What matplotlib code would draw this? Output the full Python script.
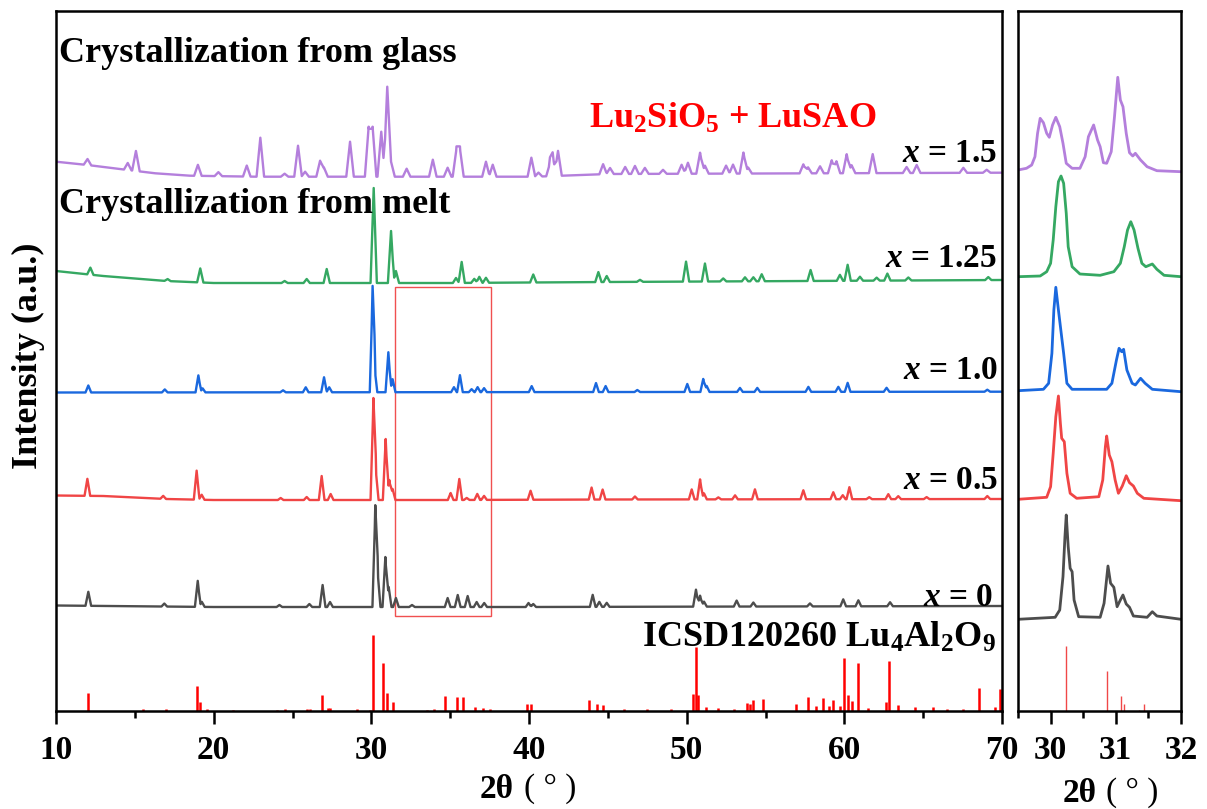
import numpy as np
import matplotlib
matplotlib.use("Agg")
import matplotlib.pyplot as plt
from matplotlib.patches import Rectangle
from matplotlib.ticker import MultipleLocator

plt.rcParams['font.family'] = ['Liberation Serif', 'DejaVu Serif']
plt.rcParams['font.weight'] = 'bold'
plt.rcParams['mathtext.fontset'] = 'custom'
plt.rcParams['mathtext.rm'] = 'Liberation Serif:bold'
plt.rcParams['mathtext.it'] = 'Liberation Serif:italic:bold'
plt.rcParams['mathtext.bf'] = 'Liberation Serif:bold'

# ---------------- data (2theta in degrees, intensity in a.u.) ----------------
labels = ["x = 1.5", "x = 1.25", "x = 1.0", "x = 0.5", "x = 0"]
colors = ["#b47fdc", "#35a862", "#1a68de", "#f04545", "#4d4d4d"]

# x = 1.5 (crystallization from glass)
g15_bx = [10, 12, 14.2, 16.3, 18.5, 22.7, 40.4, 45, 70]
g15_by = [549.3, 546, 541.7, 537.7, 535.3, 534.3, 534.3, 537, 538.3]
g15_px = [12.0, 14.55, 15.07, 19.0, 20.3, 22.1, 22.96, 24.5, 25.35, 25.8, 26.75, 27.0,
          28.65, 29.83, 30.08, 30.63, 31.01, 31.25, 32.24, 33.9, 34.84, 35.4, 35.62,
          37.27, 37.7, 40.15, 40.6, 41.33, 41.5, 41.84, 44.7, 45.14, 46.1, 46.72, 47.35,
          48.5, 49.68, 50.08, 50.85, 51.16, 52.5, 52.94, 53.6, 53.9, 57.4, 57.7, 58.46,
          59.2, 59.5, 60.15, 60.46, 61.8, 63.95, 64.59, 67.55, 69.03]
g15_ph = [6, 7, 20, 11, 4, 11, 39, 3, 31, 5, 16, 9,
          35, 50, 50, 45, 90, 15, 8, 17, 9, 28, 28,
          15, 12, 19, 4, 13, 20, 25, 10, 6, 7, 8, 6,
          4, 9, 11, 21, 8, 8, 9, 21, 6, 9, 6, 7,
          13, 12, 19, 8, 19, 6, 8, 5, 3]

# x = 1.25
g125_bx = [10, 13, 17, 20, 35, 45, 70]
g125_by = [440, 435, 430, 428, 428, 429, 431]
g125_px = [12.18, 17.08, 19.15, 24.5, 25.9, 27.17, 30.15, 31.25, 31.56, 35.37, 35.73,
           36.53, 36.85, 37.27, 40.27, 44.4, 44.93, 47.04, 49.96, 51.16, 52.32, 53.7,
           54.23, 54.76, 57.86, 59.72, 60.21, 60.99, 62.05, 62.73, 64.06, 69.13]
g125_ph = [7, 2, 14, 2, 4, 14, 95, 52, 12, 5, 21,
           4, 6, 5, 8, 10, 6, 2, 20, 18, 3, 4,
           4, 7, 11, 6, 16, 4, 3, 7, 3, 3]

# x = 1.0
g10_bx = [10, 70]
g10_by = [318.5, 319.3]
g10_px = [12.05, 16.9, 19.03, 19.3, 24.4, 25.84, 27.0, 27.33, 30.08, 30.2, 31.08, 31.35,
          35.24, 35.62, 36.36, 36.74, 37.15, 40.17, 44.25, 44.86, 46.87, 50.04, 51.05,
          51.27, 53.38, 54.48, 57.72, 59.62, 60.21, 62.68, 69.07]
g10_ph = [7, 3, 17, 4, 2, 5, 15, 5, 98, 25, 40, 13,
          5, 17, 3, 5, 4, 6, 9, 6, 2, 8, 13,
          6, 4, 4, 5, 5, 9, 4, 2]

# x = 0.5
g05_bx = [10, 13, 15, 17, 20, 35, 45, 70]
g05_by = [215.5, 215, 213.5, 212, 211, 211, 211.5, 212]
g05_px = [11.99, 16.8, 18.92, 19.24, 24.25, 25.9, 26.85, 27.42, 30.13, 30.28, 30.91,
          31.14, 31.35, 35.03, 35.58, 36.05, 36.72, 37.15, 40.1, 43.97, 44.67, 46.72,
          50.32, 50.85, 51.1, 52.01, 53.07, 54.33, 57.4, 59.3, 59.9, 60.32, 61.58,
          62.79, 63.42, 65.22, 69.07]
g05_ph = [17, 3, 29, 5, 2, 3, 24, 6, 97, 30, 61,
          20, 11, 7, 21, 2, 6, 4, 9, 12, 10, 3,
          10, 20, 6, 2, 4, 10, 9, 7, 4, 12, 2,
          5, 3, 2, 3]

# x = 0
g0_bx = [10, 20, 40, 55, 70]
g0_by = [105.5, 104, 104, 104.5, 105]
g0_px = [12.05, 16.87, 18.99, 19.25, 24.17, 26.07, 26.91, 27.38, 30.25, 30.4, 30.89,
         31.1, 31.56, 32.58, 34.84, 35.48, 36.11, 36.68, 37.16, 39.97, 40.27, 44.04,
         44.46, 44.93, 50.59, 50.85, 51.1, 53.17, 54.23, 57.82, 59.93, 60.89, 62.9]
g0_ph = [14, 3, 26, 5, 2, 3, 22, 5, 96, 35, 50,
         20, 9, 2, 9, 12, 11, 5, 4, 4, 3, 12,
         5, 4, 17, 11, 5, 6, 4, 3, 7, 6, 4]

# ICSD120260 Lu4Al2O9 reference pattern
ref_pos = [12.05, 15.5, 17.0, 18.92, 19.13, 19.6, 21.2, 24.0, 24.5, 25.9, 26.1, 26.85,
           27.27, 27.4, 29.1, 29.9, 30.13, 30.76, 31.01, 31.36, 33.5, 34.0, 34.67, 35.41,
           35.83, 36.6, 37.1, 37.5, 39.85, 40.1, 43.83, 44.33, 44.71, 46.0, 47.5, 49.0,
           50.42, 50.59, 50.74, 51.2, 52.0, 53.0, 53.8, 54.0, 54.18, 54.82, 56.93, 57.71,
           58.2, 58.63, 59.0, 59.3, 59.7, 60.0, 60.25, 60.47, 60.85, 61.5, 62.65, 62.85,
           63.42, 64.48, 65.64, 66.5, 67.5, 68.56, 69.55, 69.87]
ref_int = [18, 2, 2, 25, 9, 2, 1, 1, 2, 2, 2, 16,
           3, 3, 2, 1, 76, 48, 18, 9, 1, 2, 15, 14,
           14, 4, 3, 2, 7, 7, 11, 7, 6, 2, 2, 2,
           17, 64, 16, 4, 3, 2, 8, 7, 11, 12, 7, 14,
           5, 13, 5, 11, 5, 53, 16, 10, 48, 3, 9, 50,
           6, 4, 4, 2, 2, 23, 4, 22]

# zoomed panel (29.5 - 32 deg)
z15_x = [29.5, 29.63, 29.71, 29.76, 29.80, 29.84, 29.89, 29.94, 29.98, 30.03, 30.08, 30.14,
         30.19, 30.24, 30.33, 30.45, 30.53, 30.58, 30.66, 30.72, 30.76, 30.81, 30.86, 30.93,
         30.98, 31.03, 31.07, 31.11, 31.16, 31.21, 31.26, 31.3, 31.38, 31.48, 31.63, 32.0]
z15_y = [541, 542.7, 546, 554.3, 577.7, 592.7, 588.3, 577.7, 573.7, 586, 593.7, 584.3,
         567.7, 547.7, 542.7, 542.7, 554.3, 574.3, 586, 571, 564.3, 548.3, 547.7, 559.3,
         594.3, 633.7, 611, 604.3, 577.7, 558.3, 555, 557.7, 551, 544.3, 540.3, 539.3]
z125_x = [29.5, 29.84, 29.94, 30.0, 30.04, 30.08, 30.12, 30.16, 30.2, 30.24, 30.27, 30.33,
          30.45, 30.76, 30.97, 31.07, 31.13, 31.18, 31.23, 31.28, 31.34, 31.4, 31.46, 31.56,
          31.63, 31.74, 32.0]
z125_y = [434.3, 435, 439.3, 447.7, 471, 504.3, 529.3, 535, 527.7, 497.7, 464.3, 444.3,
          437, 435.7, 439.3, 447.7, 464.3, 481, 489.3, 481, 462.7, 447.7, 444.3, 447,
          441.7, 435.7, 434.3]
z10_x = [29.5, 29.89, 29.97, 30.02, 30.05, 30.08, 30.12, 30.16, 30.2, 30.25, 30.33, 30.86,
         30.94, 31.01, 31.05, 31.09, 31.12, 31.17, 31.25, 31.3, 31.38, 31.45, 31.56, 32.0]
z10_y = [320.3, 321.7, 327.7, 357.7, 401, 423.7, 401, 379.3, 357.7, 327.7, 321.7, 321.7,
         327.7, 351, 362.7, 359.3, 361.7, 341, 327.7, 326, 332.7, 327.7, 321.7, 319.3]
z05_x = [29.5, 29.94, 30.0, 30.04, 30.08, 30.12, 30.15, 30.17, 30.21, 30.25, 30.3, 30.4,
         30.74, 30.8, 30.84, 30.86, 30.9, 30.94, 30.99, 31.04, 31.1, 31.16, 31.21, 31.27,
         31.33, 31.43, 32.0]
z05_y = [211.7, 213.7, 224.3, 257.7, 294.3, 315, 287.7, 272.7, 269.3, 237.7, 217.7, 212.7,
         214.3, 231, 264.3, 275, 256, 249.3, 231, 217.7, 225, 235.3, 228.3, 225,
         217.7, 212.7, 210.3]
z0_x = [29.5, 30.07, 30.14, 30.19, 30.22, 30.24, 30.27, 30.3, 30.33, 30.36, 30.43, 30.76,
        30.82, 30.88, 30.92, 30.97, 31.02, 31.07, 31.11, 31.16, 31.21, 31.27, 31.48, 31.56,
        31.63, 32.0]
z0_y = [91.7, 93.7, 101, 134.3, 174.3, 196, 164.3, 142.7, 139.3, 111, 94.3, 93.7,
        107.7, 145, 127.7, 123.7, 104.3, 111, 116, 107, 103.7, 95, 93.7, 99.3,
        95, 91.7]
zref_pos = [29.99, 30.23, 30.86, 31.08, 31.13, 31.35, 31.44]
zref_int = [1, 65, 40, 15, 7, 1, 7]


def pattern(bx, by, px, ph, w):
    """Render read peaks as narrow triangular profiles on the read baseline."""
    pts = set(bx)
    for p in px:
        pts.update([p - w, p, p + w])
    x = np.array(sorted(v for v in pts if 10 <= v <= 70))
    y = np.interp(x, bx, by)
    for p, h in zip(px, ph):
        y = y + h * np.clip(1 - np.abs(x - p) / w, 0, None)
    return x, y


W, H = 1207, 809
fig = plt.figure(figsize=(W / 100, H / 100), dpi=100)
ax1 = fig.add_axes([56 / W, 98 / H, 946 / W, 700 / H])
ax2 = fig.add_axes([1018 / W, 98 / H, 163 / W, 700 / H])

series = [
    (g15_bx, g15_by, g15_px, g15_ph, 0.24),
    (g125_bx, g125_by, g125_px, g125_ph, 0.2),
    (g10_bx, g10_by, g10_px, g10_ph, 0.18),
    (g05_bx, g05_by, g05_px, g05_ph, 0.18),
    (g0_bx, g0_by, g0_px, g0_ph, 0.18),
]
for (bx, by, px, ph, w), c in zip(series, colors):
    x, y = pattern(bx, by, px, ph, w)
    ax1.plot(x, y, color=c, lw=1.7, solid_joinstyle='round')

ax1.vlines(ref_pos, 0, ref_int, color="#ff0000", lw=1.8)

ax1.add_patch(Rectangle((31.5, 95), 6.1, 329, fill=False, ec="#f05050", lw=1.0))

ax1.set_xlim(10, 70)
ax1.set_ylim(0, 700)
ax1.xaxis.set_major_locator(MultipleLocator(10))
ax1.xaxis.set_minor_locator(MultipleLocator(5))

zoom_series = [(z15_x, z15_y), (z125_x, z125_y), (z10_x, z10_y), (z05_x, z05_y), (z0_x, z0_y)]
for (x, y), c in zip(zoom_series, colors):
    ax2.plot(x, y, color=c, lw=2.0, solid_joinstyle='round')
ax2.vlines(zref_pos, 0, zref_int, color="#f04848", lw=1.0)
ax2.set_xlim(29.5, 32)
ax2.set_ylim(0, 700)
ax2.xaxis.set_major_locator(MultipleLocator(1))
ax2.xaxis.set_minor_locator(MultipleLocator(0.5))

for ax in (ax1, ax2):
    for s in ax.spines.values():
        s.set_linewidth(1.8)
    ax.set_yticks([])
    ax.tick_params(axis='x', which='major', direction='out', length=9, width=1.8,
                   labelsize=24, pad=8)
    ax.tick_params(axis='x', which='minor', direction='out', length=5, width=1.8)
    for lab in ax.get_xticklabels():
        lab.set_fontweight('bold')

# axis labels
fig.text(28 / W, 1 - 356 / H, "Intensity (a.u.)", rotation=90, ha='center', va='center',
         fontsize=26, fontweight='bold')
fig.text(514 / W, 1 - 789 / H, "2θ", ha='right', va='center', fontsize=24, fontweight='bold')
fig.text(524 / W, 1 - 789 / H, "( ° )", ha='left', va='center', fontsize=24, fontweight='normal')
fig.text(1097 / W, 1 - 793 / H, "2θ", ha='right', va='center', fontsize=24, fontweight='bold')
fig.text(1106 / W, 1 - 793 / H, "( ° )", ha='left', va='center', fontsize=24, fontweight='normal')

# annotations
ax1.text(10.19, 649, "Crystallization from glass", fontsize=26, fontweight='bold',
         ha='left', va='baseline')
ax1.text(10.19, 498, "Crystallization from melt", fontsize=26, fontweight='bold',
         ha='left', va='baseline')
ax1.text(43.8, 582.7, r"Lu$_2$SiO$_5$ + LuSAO", fontsize=26, fontweight='bold',
         color="#ff0000", ha='left', va='baseline')
label_pos = [(69.68, 548.5), (69.68, 444.3), (69.77, 331.7), (69.77, 221.7), (69.45, 105)]
for (lx, ly), lab in zip(label_pos, labels):
    ax1.text(lx, ly, "$x$" + lab[1:], fontsize=24, fontweight='bold', ha='right',
             va='baseline')
ax1.text(47.17, 64.3, r"ICSD120260 Lu$_4$Al$_2$O$_9$", fontsize=26, fontweight='bold',
         ha='left', va='baseline')

fig.savefig("out.png", dpi=100)
